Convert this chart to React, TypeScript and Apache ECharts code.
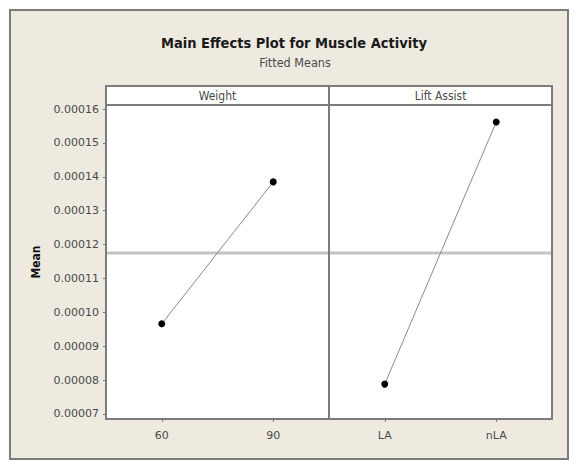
import React, { useEffect, useRef } from "react";
import * as echarts from "echarts";

// Factor levels and their fitted means
const weightLevels = ["60", "90"];
const weightMeans = [0.0000966, 0.0001385];
const liftLevels = ["LA", "nLA"];
const liftMeans = [0.0000788, 0.0001562];
const overallMean = 0.0001175;
const panelTitles = ["Weight", "Lift Assist"];
const yTicks = [0.00007, 0.00008, 0.00009, 0.0001, 0.00011, 0.00012, 0.00013, 0.00014, 0.00015, 0.00016];

const Y_MIN = 0.0000685;
const Y_MAX = 0.0001612;

const FRAME = "#7c7c7c";
const BG = "#eeeae0";
const NARROW = "'Liberation Sans Narrow', 'DejaVu Sans Condensed', 'Liberation Sans', sans-serif";
const LABEL_FONT = "'DejaVu Sans', sans-serif";

const PLOT_L = 106;
const PLOT_T = 105;
const PANEL_W = 223;
const PLOT_H = 314;
const HEADER_H = 19;

export default function App() {
  const ref = useRef<HTMLDivElement>(null);

  useEffect(() => {
    document.body.style.margin = "0";
    if (!ref.current) return;
    const chart = echarts.init(ref.current, undefined, { renderer: "svg" });

    const xAxisBase = {
      type: "category" as const,
      boundaryGap: true,
      axisLine: { show: false },
      axisTick: { show: true, alignWithLabel: true, length: 3, lineStyle: { color: FRAME } },
      axisLabel: { color: "#4a4a4a", fontFamily: LABEL_FONT, fontSize: 11, margin: 11 },
      splitLine: { show: false },
    };

    const yAxisBase = {
      type: "value" as const,
      min: Y_MIN,
      max: Y_MAX,
      splitLine: { show: false },
      axisLine: { show: false },
    };

    const lineSeries = (idx: number, data: number[]) => ({
      type: "line" as const,
      xAxisIndex: idx,
      yAxisIndex: idx,
      data,
      symbol: "circle",
      symbolSize: 7,
      itemStyle: { color: "#000" },
      lineStyle: { color: "#8a8a8a", width: 1 },
      z: 5,
    });

    const staticGraphics: any[] = [
      {
        type: "rect",
        z: -10,
        shape: { x: 10, y: 10, width: 558, height: 449 },
        style: { fill: BG, stroke: FRAME, lineWidth: 2 },
      },
      {
        type: "text",
        x: 294,
        y: 43,
        style: {
          text: "Main Effects Plot for Muscle Activity",
          fill: "#1a1a1a",
          font: `bold 14.5px ${NARROW}`,
          textAlign: "center",
          textVerticalAlign: "middle",
        },
      },
      {
        type: "text",
        x: 295,
        y: 62,
        style: {
          text: "Fitted Means",
          fill: "#4a4a4a",
          font: `12.5px ${NARROW}`,
          textAlign: "center",
          textVerticalAlign: "middle",
        },
      },
      ...panelTitles.flatMap((t, i) => [
        {
          type: "rect",
          shape: { x: PLOT_L + i * PANEL_W, y: PLOT_T - HEADER_H, width: PANEL_W, height: HEADER_H },
          style: { fill: "#fff", stroke: FRAME, lineWidth: 2 },
        },
        {
          type: "text",
          x: PLOT_L + i * PANEL_W + PANEL_W / 2,
          y: PLOT_T - HEADER_H / 2,
          style: {
            text: t,
            fill: "#4a4a4a",
            font: `12px ${NARROW}`,
            textAlign: "center",
            textVerticalAlign: "middle",
          },
        },
      ]),
    ];

    chart.setOption({
      animation: false,
      backgroundColor: "#ffffff",
      grid: [
        {
          left: PLOT_L, top: PLOT_T, width: PANEL_W, height: PLOT_H,
          show: true, backgroundColor: "#fff", borderColor: FRAME, borderWidth: 2,
        },
        {
          left: PLOT_L + PANEL_W, top: PLOT_T, width: PANEL_W, height: PLOT_H,
          show: true, backgroundColor: "#fff", borderColor: FRAME, borderWidth: 2,
        },
      ],
      xAxis: [
        { ...xAxisBase, gridIndex: 0, data: weightLevels },
        { ...xAxisBase, gridIndex: 1, data: liftLevels },
      ],
      yAxis: [
        {
          ...yAxisBase,
          gridIndex: 0,
          name: "Mean",
          nameLocation: "middle",
          nameGap: 64,
          nameTextStyle: { color: "#111", fontFamily: NARROW, fontWeight: "bold", fontSize: 12 },
          axisTick: { show: true, length: 3, customValues: yTicks, lineStyle: { color: FRAME } },
          axisLabel: {
            customValues: yTicks,
            color: "#4a4a4a",
            fontFamily: LABEL_FONT,
            fontSize: 11,
            margin: 7,
            formatter: (v: number) => v.toFixed(5),
          },
        },
        {
          ...yAxisBase,
          gridIndex: 1,
          axisTick: { show: false },
          axisLabel: { show: false },
        },
      ],
      series: [lineSeries(0, weightMeans), lineSeries(1, liftMeans)],
      graphic: staticGraphics,
    });

    // Overall mean reference line across both panels, placed via the y scale
    const yMean = chart.convertToPixel({ yAxisIndex: 0 }, overallMean) as number;
    chart.setOption({
      graphic: [
        ...staticGraphics,
        {
          type: "line",
          z: 1,
          shape: { x1: PLOT_L + 1, y1: yMean, x2: PLOT_L + 2 * PANEL_W - 1, y2: yMean },
          style: { stroke: "#c4c4c4", lineWidth: 3 },
        },
        {
          type: "line",
          z: 2,
          shape: { x1: PLOT_L + PANEL_W, y1: PLOT_T, x2: PLOT_L + PANEL_W, y2: PLOT_T + PLOT_H },
          style: { stroke: FRAME, lineWidth: 2 },
        },
      ],
    });

    return () => chart.dispose();
  }, []);

  return <div ref={ref} style={{ width: 580, height: 466 }} />;
}
